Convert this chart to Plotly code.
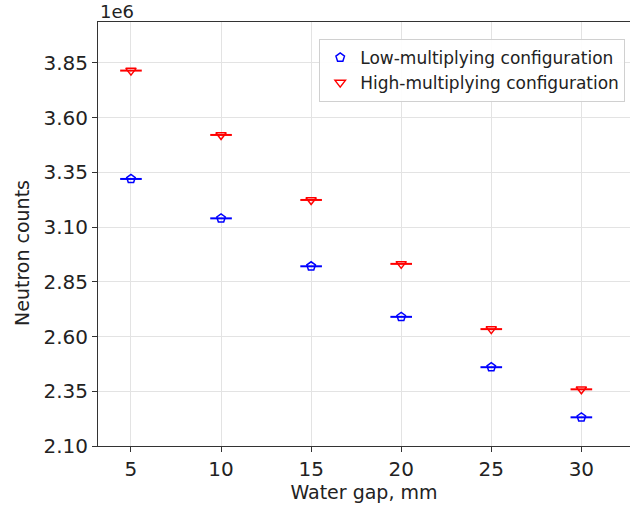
import plotly.graph_objects as go

# ── Data ──────────────────────────────────────────────────────────────────────

water_gap = [5, 10, 15, 20, 25, 30]
low_mult = [3.320e6, 3.140e6, 2.921e6, 2.690e6, 2.460e6, 2.231e6]
high_mult = [3.815e6, 3.521e6, 3.224e6, 2.932e6, 2.634e6, 2.359e6]
gap_err = [0.6] * len(water_gap)

y_ticks = [2.10e6, 2.35e6, 2.60e6, 2.85e6, 3.10e6, 3.35e6, 3.60e6, 3.85e6]

FONT = "DejaVu Sans"
TXT = "#222222"

# ── Figure ────────────────────────────────────────────────────────────────────

fig = go.Figure()

fig.add_trace(go.Scatter(
    x=water_gap, y=low_mult,
    mode="markers",
    name="Low-multiplying configuration",
    marker=dict(symbol="pentagon-open", color="#0000ff", size=9, line=dict(width=1.5)),
    error_x=dict(type="data", array=gap_err, color="#0000ff", thickness=2, width=0),
))

fig.add_trace(go.Scatter(
    x=water_gap, y=high_mult,
    mode="markers",
    name="High-multiplying configuration",
    marker=dict(symbol="triangle-down-open", color="#ff0000", size=9, line=dict(width=1.5)),
    error_x=dict(type="data", array=gap_err, color="#ff0000", thickness=2, width=0),
))

axis_common = dict(
    showline=True, linecolor="#333333", linewidth=1,
    ticks="outside", ticklen=5, tickcolor="#333333",
    showgrid=True, gridcolor="#e3e3e3", gridwidth=1,
    zeroline=False,
    tickfont=dict(family=FONT, size=20, color=TXT),
)

fig.update_xaxes(
    range=[3.17, 32.7],
    tickvals=water_gap,
    mirror=True,
    title=dict(text="Water gap, mm", font=dict(family=FONT, size=19, color=TXT), standoff=3),
    **axis_common,
)

fig.update_yaxes(
    range=[2.10e6, 4.037e6],
    tickvals=y_ticks,
    ticktext=[f"{v / 1e6:.2f}" for v in y_ticks],
    **axis_common,
)

# y label sits a little below the axis centre in the reference
fig.add_annotation(
    text="Neutron counts", xref="paper", yref="paper", x=-0.143, y=0.455,
    xanchor="center", yanchor="middle", textangle=-90, showarrow=False,
    font=dict(family=FONT, size=19, color=TXT),
)

fig.add_annotation(
    text="1e6", xref="paper", yref="paper", x=0, y=1,
    xanchor="left", yanchor="bottom", yshift=-2, showarrow=False,
    font=dict(family=FONT, size=18, color=TXT),
)

fig.update_layout(
    width=630, height=506,
    margin=dict(l=98, r=0, t=22, b=60),
    paper_bgcolor="white", plot_bgcolor="white",
    showlegend=True,
    legend=dict(
        x=0.991, y=0.96, xanchor="right", yanchor="top",
        bgcolor="rgba(255,255,255,0.9)", bordercolor="#d0d0d0", borderwidth=1,
        font=dict(family=FONT, size=17, color=TXT),
    ),
)

# drop the browser's default body margin so the figure sits at (0, 0)
fig.write_html(
    "out.html",
    config={"displayModeBar": False},
    post_script="document.body.style.margin = '0';",
)
